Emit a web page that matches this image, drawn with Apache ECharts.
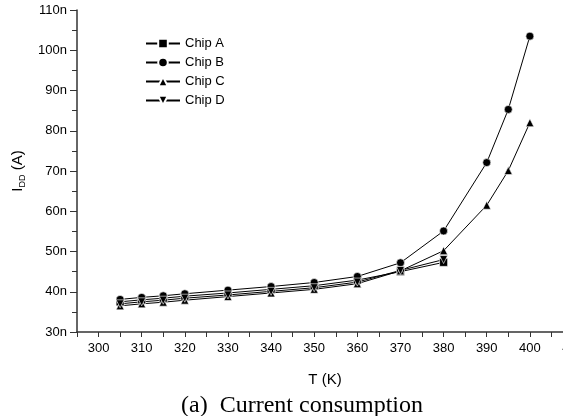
<!DOCTYPE html>
<html>
<head>
<meta charset="utf-8">
<script src="https://cdn.jsdelivr.net/npm/echarts@6/dist/echarts.min.js"></script>
<style>
  html, body { margin: 0; padding: 0; background: #fff; }
  #chart { width: 563px; height: 416px; }
</style>
</head>
<body>
<div id="chart"></div>
<script>
// temperatures (K)
const tempsShort = [305, 310, 315, 320, 330, 340, 350, 360, 370, 380];
const tempsLong = [305, 310, 315, 320, 330, 340, 350, 360, 370, 380, 390, 395, 400];

// I_DD in nA
const chipA = [37.5, 38.0, 38.4, 38.9, 39.7, 40.6, 41.5, 42.9, 45.0, 47.3];
const chipB = [38.1, 38.6, 39.0, 39.5, 40.4, 41.3, 42.3, 43.8, 47.2, 55.1, 72.1, 85.3, 103.5];
const chipC = [36.5, 37.0, 37.4, 37.9, 38.8, 39.7, 40.6, 42.0, 45.2, 50.2, 61.5, 70.1, 82.0];
const chipD = [37.0, 37.5, 37.9, 38.4, 39.2, 40.1, 41.0, 42.4, 45.3, 48.0];

const chipNames = ["Chip A", "Chip B", "Chip C", "Chip D"];

function pairs(xs, ys) {
  return ys.map((y, i) => [xs[i], y]);
}

const font = "Liberation Sans, Arial, sans-serif";

function makeSeries(name, xs, ys, symbol, rotate) {
  return {
    name: name,
    type: "line",
    data: pairs(xs, ys),
    symbol: symbol,
    symbolSize: 8,
    symbolRotate: rotate,
    showAllSymbol: true,
    lineStyle: { color: "#000", width: 1 },
    itemStyle: { color: "#000", borderColor: "#fff", borderWidth: 0.6 },
    emphasis: { disabled: true },
    animation: false
  };
}

const chart = echarts.init(document.getElementById("chart"));
chart.setOption({
  backgroundColor: "#fff",
  animation: false,
  title: {
    text: "(a)  Current consumption",
    left: 297,
    textAlign: "center",
    top: 389,
    textStyle: { fontFamily: "Liberation Serif, Times New Roman, serif", fontSize: 24, fontWeight: "normal", color: "#000" }
  },
  legend: {
    orient: "vertical",
    left: 140,
    top: 32,
    itemWidth: 34,
    itemHeight: 12,
    itemGap: 6,
    data: chipNames,
    textStyle: { fontFamily: font, fontSize: 13, color: "#000" }
  },
  grid: { left: 77, width: 496, top: 10, bottom: 84, containLabel: false, outerBoundsMode: "none" },
  xAxis: {
    type: "value",
    min: 295,
    max: 410,
    interval: 5,
    name: "T (K)",
    nameLocation: "middle",
    nameGap: 40,
    nameTextStyle: { fontFamily: font, fontSize: 15, color: "#000" },
    axisLine: { lineStyle: { color: "#333", width: 1.5 } },
    axisTick: { length: 5, lineStyle: { color: "#333", width: 1 } },
    axisLabel: {
      fontFamily: font, fontSize: 13, color: "#000", margin: 10,
      formatter: v => (v % 10 === 0 ? String(v) : "")
    },
    splitLine: { show: false }
  },
  yAxis: {
    type: "value",
    min: 30,
    max: 110,
    interval: 10,
    name: "{i|I}{s|DD}{i| (A)}",
    nameLocation: "middle",
    nameRotate: 90,
    nameGap: 50,
    nameTextStyle: {
      color: "#000",
      rich: {
        i: { fontFamily: font, fontSize: 15, color: "#000" },
        s: { fontFamily: font, fontSize: 9, color: "#000", padding: [9, 0, 0, 0] }
      }
    },
    axisLine: { show: true, lineStyle: { color: "#333", width: 1.5 } },
    axisTick: { show: true, length: 7, lineStyle: { color: "#333", width: 1 } },
    minorTick: { show: true, splitNumber: 2, length: 5, lineStyle: { color: "#333", width: 1 } },
    axisLabel: {
      fontFamily: font, fontSize: 13, color: "#000", margin: 10,
      formatter: v => v + "n"
    },
    splitLine: { show: false },
    minorSplitLine: { show: false }
  },
  series: [
    makeSeries("Chip A", tempsShort, chipA, "rect", 0),
    makeSeries("Chip B", tempsLong, chipB, "circle", 0),
    makeSeries("Chip C", tempsLong, chipC, "triangle", 0),
    makeSeries("Chip D", tempsShort, chipD, "triangle", 180)
  ]
});

window.addEventListener("resize", () => chart.resize());
</script>
</body>
</html>
